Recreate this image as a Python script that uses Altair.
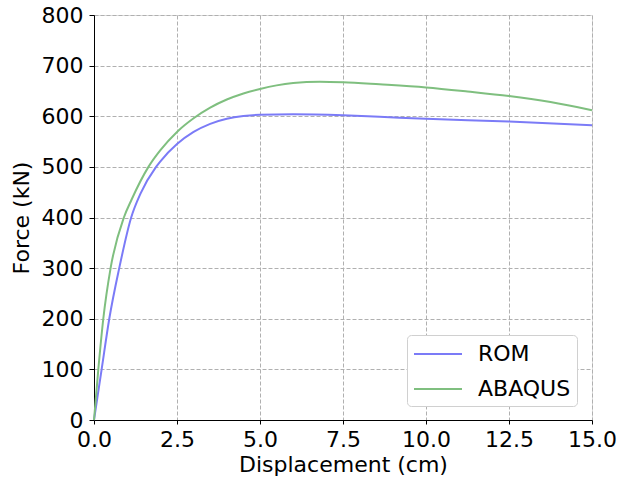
import altair as alt
import pandas as pd

rom_x = [0, 0.23, 0.46, 0.76, 1.12, 1.4, 1.87, 2.0, 2.5, 3.0, 3.5, 4.0, 4.5, 5.0, 6.0, 7.5, 8.6, 10.0, 12.5, 15.0]
rom_y = [0, 100, 200, 300, 400, 447, 500, 511, 545, 569, 585, 595, 600.5, 603, 604, 602, 599, 595, 589.5, 582]

abq_x = [0, 0.13, 0.28, 0.5, 0.9, 1.13, 1.64, 2.0, 2.5, 3.0, 3.5, 4.0, 4.5, 5.0, 5.5, 6.0, 6.8, 7.5, 8.6, 10.0, 11.25, 12.5, 13.75, 15.0]
abq_y = [0, 100, 200, 300, 400, 435, 500, 533, 569, 596, 617, 633, 645, 654, 661, 665.5, 668, 667, 663, 657, 649, 640, 628, 612]

series = ["ROM", "ABAQUS"]
colors = ["#7b7bf7", "#7fbf7f"]
x_ticks = [0, 2.5, 5, 7.5, 10, 12.5, 15]
y_ticks = [0, 100, 200, 300, 400, 500, 600, 700, 800]

rows = []
for i, (x, y) in enumerate(zip(rom_x, rom_y)):
    rows.append({"series": "ROM", "i": i, "x": x, "y": y})
for i, (x, y) in enumerate(zip(abq_x, abq_y)):
    rows.append({"series": "ABAQUS", "i": i, "x": x, "y": y})
df = pd.DataFrame(rows)

font = "DejaVu Sans"
fs = 22

chart = alt.Chart(df).mark_line(strokeWidth=2, interpolate="monotone").encode(
    x=alt.X("x:Q", scale=alt.Scale(domain=[0, 15], nice=False, zero=False),
            axis=alt.Axis(values=x_ticks, format=".1f", title="Displacement (cm)",
                          grid=True, gridDash=[4, 2], gridColor="#b0b0b0", gridOpacity=1,
                          labelFlush=False, labelOverlap=False, labelPadding=15,
                          labelBaseline="middle",
                          tickSize=4, tickColor="black", domainColor="black",
                          labelFontSize=fs, titleFontSize=fs, titleFontWeight="normal",
                          labelColor="black", titleColor="black", titlePadding=4,
                          labelFont=font, titleFont=font)),
    y=alt.Y("y:Q", scale=alt.Scale(domain=[0, 800], nice=False),
            axis=alt.Axis(values=y_ticks, title="Force (kN)",
                          grid=True, gridDash=[4, 2], gridColor="#b0b0b0", gridOpacity=1,
                          labelFlush=False, labelOverlap=False, labelPadding=6,
                          tickSize=5, tickColor="black", domainColor="black",
                          labelFontSize=fs, titleFontSize=fs, titleFontWeight="normal",
                          labelColor="black", titleColor="black", titlePadding=8,
                          labelFont=font, titleFont=font)),
    color=alt.Color("series:N", scale=alt.Scale(domain=series, range=colors),
                    legend=alt.Legend(title=None, orient="none", legendX=313, legendY=320,
                                      symbolType="M-1,0H3", symbolSize=576, symbolStrokeWidth=2,
                                      labelFontSize=fs, labelFont=font, labelColor="black",
                                      strokeColor="#d0d0d0", cornerRadius=4, fillColor="white",
                                      padding=6, rowPadding=11, labelOffset=39)),
    order="i:Q",
).properties(
    width=498, height=405,
    autosize=alt.AutoSizeParams(type="none"),
    padding={"left": 94, "top": 15, "right": 27, "bottom": 60},
).configure_view(stroke="black", strokeWidth=1.2).configure(background="white")

chart.save("out.html", embed_options={"renderer": "svg", "actions": False})
